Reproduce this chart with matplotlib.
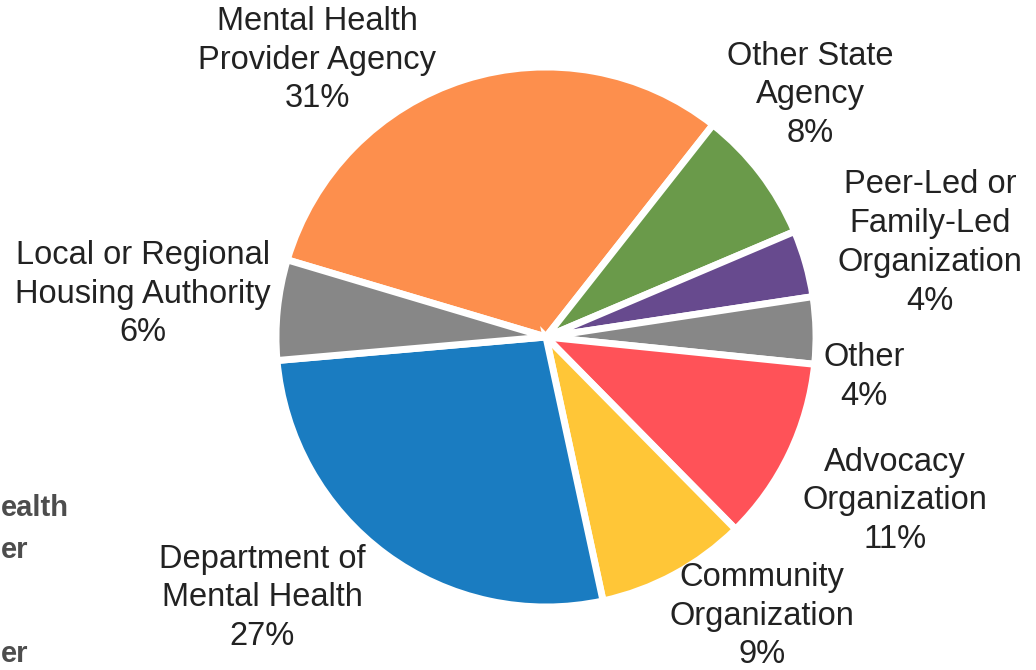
import matplotlib.pyplot as plt

plt.rcParams['font.family'] = ['Liberation Sans', 'DejaVu Sans']

# slice data, clockwise starting from the orange one
labels = ['Mental Health\nProvider Agency', 'Other State\nAgency',
          'Peer-Led or\nFamily-Led\nOrganization', 'Other',
          'Advocacy\nOrganization', 'Community\nOrganization',
          'Department of\nMental Health', 'Local or Regional\nHousing Authority']
shares = [31, 8, 4, 4, 11, 9, 27, 6]
colors = ['#FD8F4D', '#6A9A4A', '#674A8E', '#878787',
          '#FF5258', '#FFC637', '#1A7CC1', '#878787']

# label centres in pixel coords (x, y from top)
label_pos = [(317, 60), (810, 95), (930, 243), (864, 377),
             (895, 501), (762, 616), (262, 598), (143, 294)]

W, H = 1036, 670
fig = plt.figure(figsize=(W / 100, H / 100), dpi=100)
ax = fig.add_axes([0, 0, 1, 1])

ax.pie(shares, colors=colors, startangle=163.4, counterclock=False,
       center=(546, H - 337), radius=270, explode=[0.012] * len(shares),
       wedgeprops=dict(edgecolor='white', linewidth=5),
       frame=True)
ax.set_xlim(0, W)
ax.set_ylim(0, H)
ax.set_aspect('equal')
ax.axis('off')

for lab, s, (x, y) in zip(labels, shares, label_pos):
    ax.text(x, H - y, '%s\n%d%%' % (lab, s), ha='center', va='center',
            fontsize=23.5, color='#222222', linespacing=1.32)

# fragments of text from a neighbouring panel, cut by the left edge
ax.text(1, H - 508, 'ealth', ha='left', va='center',
        fontsize=21, fontweight='bold', color='#4d4d4d')
ax.text(1, H - 550, 'er', ha='left', va='center',
        fontsize=21, fontweight='bold', color='#4d4d4d')
ax.text(1, 2, 'er', ha='left', va='bottom',
        fontsize=21, fontweight='bold', color='#4d4d4d')

fig.savefig('out.png', dpi=100, facecolor='white')
